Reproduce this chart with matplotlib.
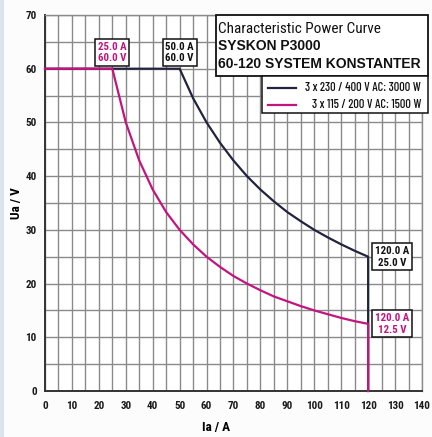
import matplotlib
matplotlib.use("Agg")
import matplotlib.pyplot as plt
from matplotlib.patches import Rectangle
from matplotlib.lines import Line2D
from matplotlib import font_manager as fm

# ---- data ----
current_3000 = [0, 50, 55, 60, 65, 70, 75, 80, 85, 90, 95, 100, 105, 110, 115, 120, 120]
voltage_3000 = [60, 60, 54.5, 50, 46.2, 42.9, 40, 37.5, 35.3, 33.3, 31.6, 30, 28.6, 27.3, 26.1, 25, 0]

current_1500 = [0, 25, 30, 35, 40, 45, 50, 55, 60, 65, 70, 75, 80, 85, 90, 95, 100, 105, 110, 115, 120, 120]
voltage_1500 = [60, 60, 50, 42.9, 37.5, 33.3, 30, 27.3, 25, 23.1, 21.4, 20, 18.75, 17.6, 16.7, 15.8, 15, 14.3, 13.6, 13.0, 12.5, 0]

series_labels = ["3 x 230 / 400 V AC: 3000 W", "3 x 115 / 200 V AC: 1500 W"]
title_lines = ["Characteristic Power Curve", "SYSKON P3000", "60-120 SYSTEM KONSTANTER"]

x_ticks = list(range(0, 141, 10))
y_ticks = list(range(0, 71, 10))

annotation_labels = ["25.0 A\n60.0 V", "50.0 A\n60.0 V", "120.0 A\n25.0 V", "120.0 A\n12.5 V"]
annotation_current = [25, 50, 120, 120]
annotation_voltage = [60, 60, 25, 12.5]
annotation_series = ["1500", "3000", "3000", "1500"]

# ---- style ----
NAVY = "#23233f"
MAGENTA = "#c2157f"
GRID = "#8a8a8a"

_available = {f.name for f in fm.fontManager.ttflist}


def pick(cands):
    out = [c for c in cands if c in _available]
    return out[:1] + ["DejaVu Sans"]


NARROW = pick(["Roboto Condensed", "Archivo Narrow", "Liberation Sans Narrow",
               "Barlow Semi Condensed", "Asap Condensed", "DejaVu Sans"])
XNARROW = pick(["Barlow Condensed", "Roboto Condensed", "Archivo Narrow",
                "Liberation Sans Narrow", "DejaVu Sans"])
legend_size = 8.9 if XNARROW[0] == "Barlow Condensed" else 7
BOLDF = pick(["Liberation Sans", "Arimo", "DejaVu Sans"])

W, H = 432, 437
fig = plt.figure(figsize=(W / 100, H / 100), dpi=100)
fig.patch.set_facecolor("#fcfcfc")
fig.patches.append(Rectangle((0, 0), 4 / W, 1, transform=fig.transFigure,
                             facecolor="#dde3ea", edgecolor="none", zorder=0))


def fx(px):
    return px / W


def fy(py):
    return 1 - py / H


ax = fig.add_axes([fx(45), fy(391), fx(422) - fx(45), fy(15) - fy(391)])
ax.set_facecolor("white")
ax.set_xlim(0, 140)
ax.set_ylim(0, 70)
ax.set_xticks(x_ticks)
ax.set_yticks(y_ticks)
ax.set_xticks(range(0, 141, 5), minor=True)
ax.set_yticks(range(0, 71, 5), minor=True)
ax.grid(which="both", color=GRID, linewidth=1.0)
ax.set_axisbelow(True)
ax.tick_params(which="both", length=0)
ax.tick_params(axis="x", pad=7)
ax.tick_params(axis="y", pad=6)
for lab in ax.get_xticklabels() + ax.get_yticklabels():
    lab.set_fontfamily(NARROW)
    lab.set_fontweight("bold")
    lab.set_fontsize(8)
    lab.set_color("#1a1a1a")
for s in ["top", "right"]:
    ax.spines[s].set_color(GRID)
    ax.spines[s].set_linewidth(1.0)
for s in ["left", "bottom"]:
    ax.spines[s].set_color("#333333")
    ax.spines[s].set_linewidth(1.4)

ax.set_xlabel("Ia / A", fontfamily=NARROW, fontweight="bold", fontsize=9.5)
ax.set_ylabel("Ua / V", fontfamily=NARROW, fontweight="bold", fontsize=9.5)
ax.xaxis.set_label_coords((216 - 45) / 377, (391 - 421) / 376)
ax.yaxis.set_label_coords((23 - 45) / 377, 0.5)

ax.plot(current_3000, voltage_3000, color=NAVY, linewidth=1.6, zorder=3, clip_on=False)
ax.plot(current_1500, voltage_1500, color=MAGENTA, linewidth=1.6, zorder=4, clip_on=False)

colours = {"1500": MAGENTA, "3000": "#111111"}
for text, xi, yi, key in zip(annotation_labels, annotation_current,
                             annotation_voltage, annotation_series):
    if xi < 100:
        kw = dict(xy=(xi, yi), xytext=(0, 4), ha="center", va="bottom")
    else:
        kw = dict(xy=(xi, yi), xytext=(5, 0), ha="left", va="center")
    ax.annotate(text, textcoords="offset points", fontsize=7.8, fontweight="bold",
                fontfamily=NARROW, color=colours[key], linespacing=1.2,
                multialignment="center",
                bbox=dict(boxstyle="square,pad=0.25", facecolor="white",
                          edgecolor="#111111", linewidth=1.1),
                zorder=6, **kw)

# title box
fig.patches.append(Rectangle((fx(216), fy(76)), fx(428) - fx(216), fy(15) - fy(76),
                             transform=fig.transFigure, facecolor="white",
                             edgecolor="#111111", linewidth=1.3, zorder=5))
fig.text(fx(218), fy(29), title_lines[0], fontfamily=NARROW, fontsize=11,
         va="center", ha="left", zorder=6, color="#111111")
fig.text(fx(218), fy(46.5), title_lines[1], fontfamily=BOLDF, fontweight="bold",
         fontsize=10, va="center", ha="left", zorder=6, color="#111111")
fig.text(fx(218), fy(64), title_lines[2], fontfamily=BOLDF, fontweight="bold",
         fontsize=10, va="center", ha="left", zorder=6, color="#111111")

# legend box
fig.patches.append(Rectangle((fx(262), fy(113)), fx(428) - fx(262), fy(76) - fy(113),
                             transform=fig.transFigure, facecolor="white",
                             edgecolor="#111111", linewidth=1.1, zorder=5))
for i, (lab, col) in enumerate(zip(series_labels, [NAVY, MAGENTA])):
    yy = fy(88 + 17 * i)
    fig.lines.append(Line2D([fx(268), fx(296)], [yy, yy], transform=fig.transFigure,
                            color=col, linewidth=1.6, zorder=6))
    fig.text(fx(421), yy, lab, fontfamily=XNARROW, fontsize=legend_size,
             fontweight="medium", va="center", ha="right", zorder=6, color="#111111")

fig.savefig("out.png", dpi=100, facecolor=fig.get_facecolor())
